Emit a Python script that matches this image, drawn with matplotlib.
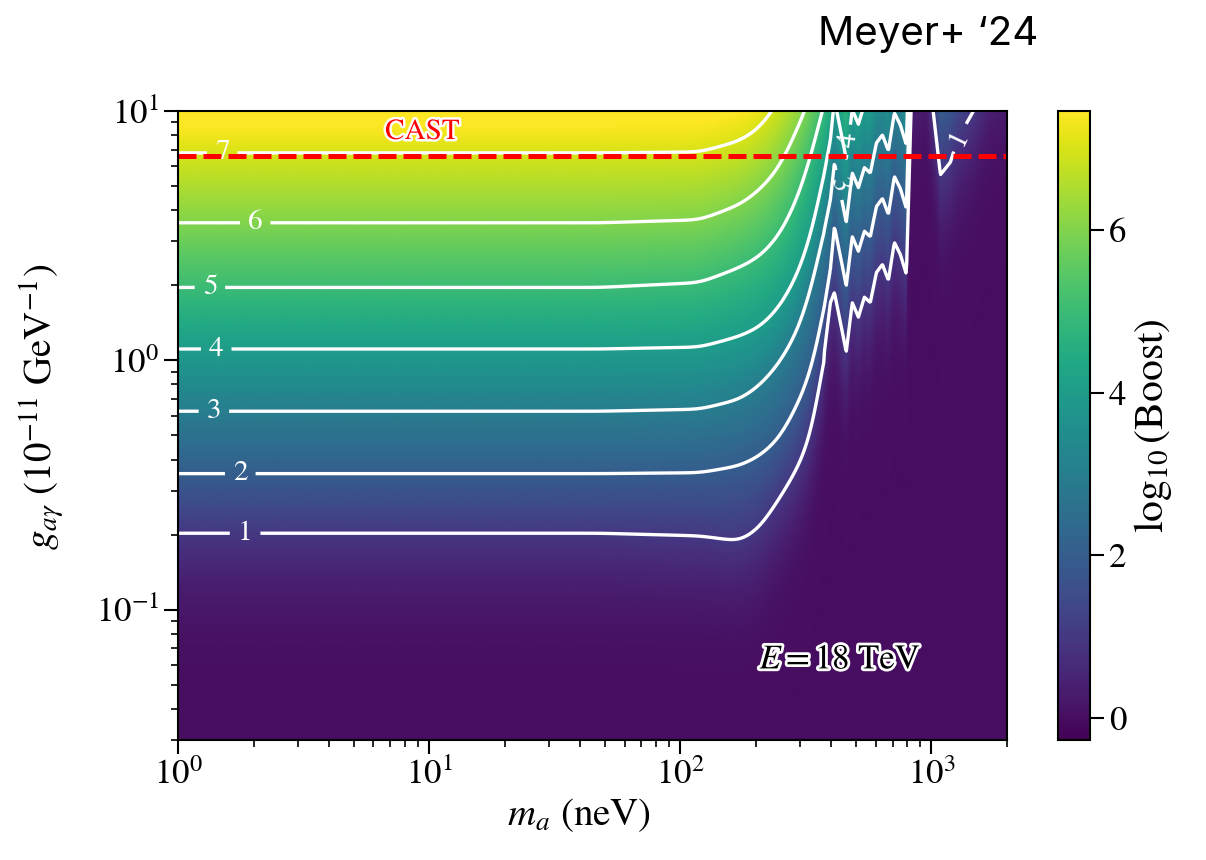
import numpy as np
import matplotlib
matplotlib.use("Agg")
import matplotlib.pyplot as plt
import matplotlib.patheffects as pe

plt.rcParams['font.family'] = 'STIXGeneral'
plt.rcParams['mathtext.fontset'] = 'stix'

LEVELS = [1, 2, 3, 4, 5, 6, 7]

# axion mass (neV) of the columns where the smooth contours were read
M_SMOOTH = [1, 48, 120, 173, 208, 250, 301, 345, 396]
# coupling (1e-11 GeV^-1) of contour levels 1..7 at each of those masses
G_LEVELS = [
    [0.208, 0.352, 0.625, 1.11, 1.96, 3.56, 6.79],
    [0.208, 0.352, 0.625, 1.11, 1.96, 3.56, 6.79],
    [0.203, 0.355, 0.637, 1.13, 2.05, 3.66, 6.85],
    [0.193, 0.379, 0.698, 1.25, 2.36, 4.21, 7.59],
    [0.219, 0.415, 0.794, 1.36, 2.61, 4.83, 8.55],
    [0.290, 0.490, 0.982, 1.64, 3.19, 5.97, 11.1],
    [0.395, 0.700, 1.37, 2.31, 4.70, 9.04, 16.0],
    [0.560, 0.990, 2.21, 3.60, 7.66, 12.7, 23.0],
    [1.75, 2.31, 4.41, 7.66, 13.3, 21.0, 33.0],
]
# oscillating high-mass part: coupling of the level-1 contour
M_JAG = [411, 434, 458, 484, 512, 541, 571, 604, 638, 674, 712, 752, 795,
         840, 946, 1018, 1086, 1190, 1270, 1366, 1497, 1718, 2010]
G1_JAG = [1.92, 1.46, 1.11, 1.75, 1.53, 1.84, 1.75, 2.31, 2.49, 2.15, 3.05, 2.73, 2.27,
          16.0, 19.0, 10.1, 5.7, 6.4, 7.9, 9.0, 10.6, 16.0, 19.0]
DEC_PER_LEVEL = 0.254   # contour spacing in decades of g

G_CAST = 6.6
M_RANGE = (1, 2000)
G_RANGE = (0.03, 10)

# contour label spots (m, g)
LABEL_POS = [(1.85, 0.21), (1.77, 0.35), (1.39, 0.625), (1.42, 1.11),
             (1.34, 1.96), (2.03, 3.56), (1.50, 6.79),
             (467, 7.66), (434, 5.06), (1270, 7.9)]

# table of contour heights (log g) for every read column
cols_lm = np.array(list(np.log10(M_SMOOTH)) + list(np.log10(M_JAG)))
cols_pos = [np.log10(row) for row in G_LEVELS]
for g1 in G1_JAG:
    cols_pos.append(np.log10(g1) + DEC_PER_LEVEL * np.arange(7))
cols_pos = np.array(cols_pos)

lm = np.linspace(0, np.log10(M_RANGE[1]), 1100)
lg = np.linspace(np.log10(G_RANGE[0]), np.log10(G_RANGE[1]), 650)

pos_all = np.array([np.interp(lm, cols_lm, cols_pos[:, k]) for k in range(7)])
# soften the kinks of the read-off table in the smooth part
step = lm[1] - lm[0]
kx = np.arange(-40, 41) * step
kern = np.exp(-0.5 * (kx / 0.035) ** 2)
kern /= kern.sum()
smooth_edge = np.log10(375)
for k in range(7):
    padded = np.concatenate([np.full(40, pos_all[k, 0]), pos_all[k], np.full(40, pos_all[k, -1])])
    sm = np.convolve(padded, kern, mode='same')[40:-40]
    pos_all[k] = np.where(lm < smooth_edge, sm, pos_all[k])

field = np.zeros((len(lg), len(lm)))
ext = 4 * DEC_PER_LEVEL
for j in range(len(lm)):
    pos = pos_all[:, j]
    xp = np.concatenate([[pos[0] - ext], pos, [pos[-1] + ext]])
    fp = np.concatenate([[-3], LEVELS, [11]])
    field[:, j] = np.interp(lg, xp, fp)
field = np.log10(1 + 10 ** field)

fig = plt.figure(figsize=(12.06, 8.6), dpi=100)
ax = fig.add_axes([0.1476, 0.1395, 0.6874, 0.7315])
mesh = ax.pcolormesh(lm, lg, field, cmap='viridis', vmin=-0.27, vmax=7.46,
                     shading='gouraud', rasterized=True)
cs = ax.contour(lm, lg, field, levels=LEVELS, colors='white', linewidths=2.4)
lab_xy = [(np.log10(m), np.log10(g)) for m, g in LABEL_POS]
ax.clabel(cs, fmt='%d', fontsize=21, inline=True, inline_spacing=8, manual=lab_xy)

ax.axhline(np.log10(G_CAST), color='red', lw=3.6, ls=(0, (3.6, 1.4)))
ax.text(np.log10(9.4), np.log10(8.2), 'CAST', color='red', fontsize=21, ha='center', va='center',
        path_effects=[pe.withStroke(linewidth=3.5, foreground='white')])
ax.text(np.log10(434), np.log10(0.0625), r'$E = 18$ TeV', color='black', fontsize=25,
        ha='center', va='center',
        path_effects=[pe.withStroke(linewidth=4, foreground='white')])

# log-style ticks on the log-coordinate axes
ax.set_xlim(np.log10(M_RANGE[0]), np.log10(M_RANGE[1]))
ax.set_ylim(np.log10(G_RANGE[0]), np.log10(G_RANGE[1]))
xmaj = [0, 1, 2, 3]
ymaj = [-1, 0, 1]
ax.set_xticks(xmaj)
ax.set_xticklabels([r'$10^{%d}$' % v for v in xmaj])
ax.set_yticks(ymaj)
ax.set_yticklabels([r'$10^{%d}$' % v for v in ymaj])
xmin_t = [np.log10(k * 10.0 ** n) for n in range(0, 4) for k in range(2, 10)
          if k * 10.0 ** n <= M_RANGE[1]]
ymin_t = [np.log10(k * 10.0 ** n) for n in range(-2, 1) for k in range(2, 10)
          if G_RANGE[0] <= k * 10.0 ** n <= G_RANGE[1]]
ax.set_xticks(xmin_t, minor=True)
ax.set_yticks(ymin_t, minor=True)

ax.set_xlabel(r'$m_a$ (neV)', fontsize=28)
ax.set_ylabel(r'$g_{a\gamma}$ ($10^{-11}$ GeV$^{-1}$)', fontsize=28)
ax.xaxis.set_label_coords(0.484, -0.09)
ax.yaxis.set_label_coords(-0.135, 0.53)
ax.tick_params(which='major', direction='out', length=10, width=1.5, labelsize=25)
ax.tick_params(which='minor', direction='out', length=5, width=1.2)
for s in ax.spines.values():
    s.set_linewidth(1.5)

cax = fig.add_axes([0.877, 0.1395, 0.027, 0.7315])
cb = fig.colorbar(mesh, cax=cax)
cb.set_ticks([0, 2, 4, 6])
cb.ax.tick_params(direction='out', length=10, width=1.5, labelsize=25)
cb.outline.set_linewidth(1.5)
cb.set_label(r'$\log_{10}$(Boost)', fontsize=30)

fig.text(0.678, 0.948, 'Meyer+ \u201824', fontsize=29, family=['Inter', 'DejaVu Sans'],
         ha='left', va='baseline')

fig.savefig('out.png', dpi=100)
